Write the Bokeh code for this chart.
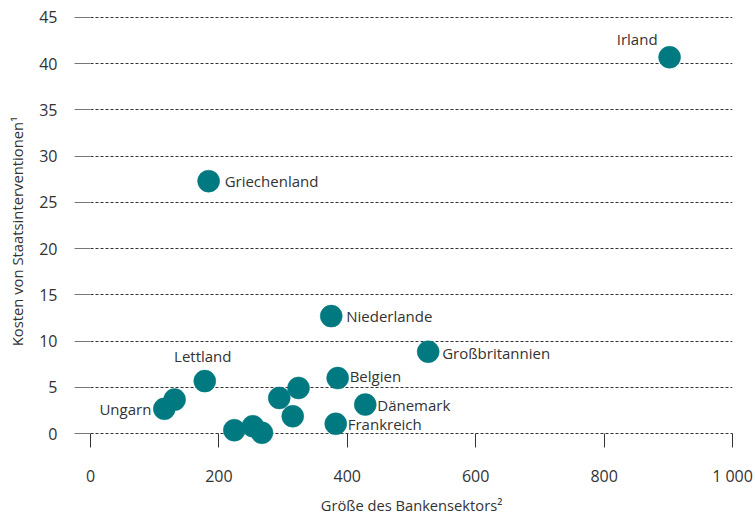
from bokeh.plotting import figure
from bokeh.models import ColumnDataSource, FixedTicker, Range1d
from bokeh.core.properties import value
from bokeh.embed import file_html
from bokeh.resources import INLINE

# ---- data ----
bank_size = [902, 184, 375, 526, 178, 385, 428, 382, 115, 131, 294, 324, 315, 224, 253, 267]
state_cost = [40.7, 27.3, 12.7, 8.85, 5.67, 6.0, 3.13, 1.05, 2.67, 3.67, 3.85, 4.93, 1.87, 0.36, 0.79, 0.08]
countries = ["Irland", "Griechenland", "Niederlande", "Großbritannien", "Lettland", "Belgien",
             "Dänemark", "Frankreich", "Ungarn", "", "", "", "", "", "", ""]
x_ticks = [0, 200, 400, 600, 800, 1000]
x_tick_labels = ["0", "200", "400", "600", "800", "1 000"]
y_ticks = [0, 5, 10, 15, 20, 25, 30, 35, 40, 45]
x_title = "Größe des Bankensektors²"
y_title = "Kosten von Staatsinterventionen¹"

# ---- label placement (style, screen px) ----
label_pos = {
    "Irland": (-12, -18, "right"),
    "Griechenland": (16, 0, "left"),
    "Niederlande": (15, 0, "left"),
    "Großbritannien": (14, 1, "left"),
    "Lettland": (-2, -25, "center"),
    "Belgien": (12, -2, "left"),
    "Dänemark": (12, 0, "left"),
    "Frankreich": (12, 0, "left"),
    "Ungarn": (-13, 0, "right"),
}

FONT = "Open Sans"
TXT = "#333333"
TEAL = "#007A80"

p = figure(width=755, height=517, output_backend="svg", toolbar_location=None,
           x_range=Range1d(0, 1000), y_range=Range1d(-1.511, 45.216),
           min_border_left=90, min_border_right=23, min_border_top=15, min_border_bottom=69)
p.outline_line_color = None
p.background_fill_color = "white"
p.border_fill_color = "white"

# grid
p.xgrid.visible = False
p.ygrid.ticker = FixedTicker(ticks=y_ticks)
p.ygrid.grid_line_color = "#333333"
p.ygrid.grid_line_dash = "3 2"
p.ygrid.grid_line_width = 1

# x axis
xa = p.xaxis[0]
xa.ticker = FixedTicker(ticks=x_ticks)
xa.major_label_overrides = {t: l for t, l in zip(x_ticks, x_tick_labels)}
xa.axis_line_color = None
xa.major_tick_in = 14
xa.major_tick_out = 0
xa.major_tick_line_color = "#333333"
xa.minor_tick_line_color = None
xa.major_label_standoff = 17
xa.major_label_text_font = FONT
xa.major_label_text_font_size = "16px"
xa.major_label_text_color = TXT
xa.axis_label = x_title
xa.axis_label_text_font = FONT
xa.axis_label_text_font_size = "14.7px"
xa.axis_label_text_font_style = "normal"
xa.axis_label_text_color = TXT
xa.axis_label_standoff = 5

# y axis
ya = p.yaxis[0]
ya.ticker = FixedTicker(ticks=y_ticks)
ya.axis_line_color = None
ya.major_tick_in = 0
ya.major_tick_out = 16
ya.major_tick_line_color = "#777777"
ya.minor_tick_line_color = None
ya.major_label_standoff = 17
ya.major_label_text_font = FONT
ya.major_label_text_font_size = "16px"
ya.major_label_text_color = TXT
ya.axis_label = y_title
ya.axis_label_text_font = FONT
ya.axis_label_text_font_size = "14.8px"
ya.axis_label_text_font_style = "normal"
ya.axis_label_text_color = TXT
ya.axis_label_standoff = 9

# points
src = ColumnDataSource(dict(x=bank_size, y=state_cost))
p.scatter("x", "y", source=src, size=22, fill_color=TEAL, line_color=TEAL, line_width=0.5)

# labels
lx, ly, lt, dx, dy, al = [], [], [], [], [], []
for xv, yv, name in zip(bank_size, state_cost, countries):
    if not name:
        continue
    ox, oy, a = label_pos[name]
    lx.append(xv); ly.append(yv); lt.append(name); dx.append(ox); dy.append(oy); al.append(a)
lsrc = ColumnDataSource(dict(x=lx, y=ly, text=lt, dx=dx, dy=dy, align=al))
p.text("x", "y", text="text", source=lsrc, x_offset="dx", y_offset="dy", text_align="align",
       text_baseline="middle", text_font=value(FONT), text_font_size="15px", text_color=TXT)

open("out.html", "w").write(file_html(p, INLINE))
